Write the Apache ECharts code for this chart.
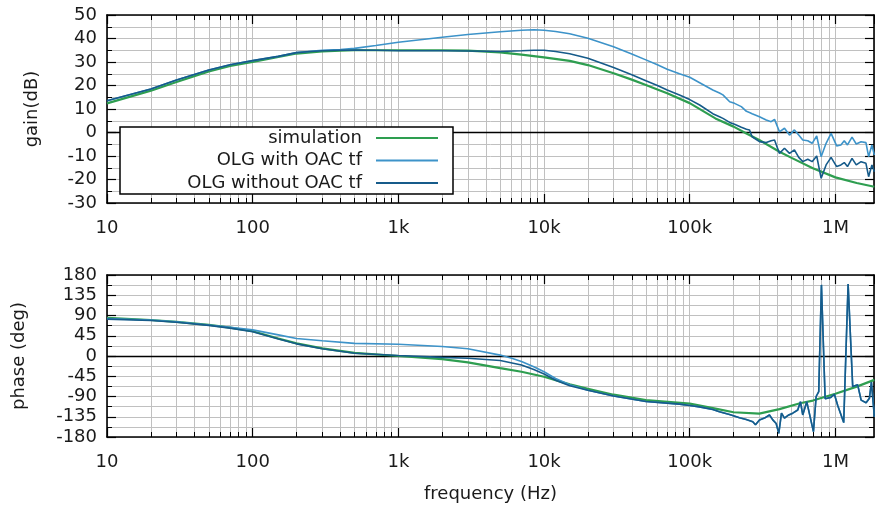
<!DOCTYPE html>
<html><head><meta charset="utf-8">
<script src="https://cdn.jsdelivr.net/npm/echarts@6/dist/echarts.min.js"></script>
<style>html,body{margin:0;padding:0;background:#fff}#c{width:875px;height:510px}</style>
</head><body><div id="c"></div>
<script>
// ---------------- data ----------------
const seriesNames = ['simulation', 'OLG with OAC tf', 'OLG without OAC tf'];
const xTickValues = [10, 100, 1e3, 1e4, 1e5, 1e6];
const xTickLabels = ['10', '100', '1k', '10k', '100k', '1M'];

// simulation (smooth)
const simGainFreq = [10,20,30,50,70,100,150,200,250,300,400,500,1000,2000,3000,5000,7000,10000,15000,20000,30000,40000,50000,60000,70000,100000,150000,200000,245000,300000,413000,500000,700000,1000000,1400000,1850000];
const simGain = [12.4,17.8,21.5,26.0,28.3,30.0,32.2,33.6,34.1,34.5,34.8,35.0,35.0,35.0,34.8,34.1,33.1,32.0,30.5,28.7,25.2,22.5,20.2,18.3,16.7,12.5,6.0,2.5,-0.4,-3.2,-8.2,-10.8,-15.2,-19.1,-21.5,-23.1];
const simPhaseFreq = [10,20,30,50,70,100,150,200,300,500,1000,2000,3000,5000,7000,10000,15000,20000,30000,50000,100000,150000,200000,300000,413000,572000,700000,1000000,1400000,1850000];
const simPhase = [85,80,76,69,63,55,39,28,17,7,0,-7,-14,-27,-35,-46,-63,-73,-86,-98,-106,-117,-125,-128,-118,-105,-99,-84,-68,-53];

// measured open-loop gain
const gainFreq = [10,20,30,50,70,100,150,200,250,300,400,500,700,1000,2000,3000,5000,7000,8500,10000,12000,15000,20000,30000,40000,50000,60000,70000,85000,100000,117000,144000,160000,169000,188000,203000,226000,245000,257000,268000,301000,335000,362000,382000,413000,447000,484000,523000,560000,597000,646000,692000,744000,798000,863000,934000,958000,1020000,1090000,1150000,1210000,1300000,1390000,1500000,1620000,1690000,1780000,1850000];
const gainWith = [13.5,18.5,22.3,26.6,28.8,30.6,32.4,34.0,34.6,35.0,35.3,35.8,37.0,38.4,40.5,41.7,42.9,43.5,43.7,43.5,43.0,42.0,40.1,36.5,33.4,30.9,28.8,26.9,25.0,23.5,21.2,18.1,16.8,16.0,13.1,12.4,11.0,9.0,8.5,8.0,6.7,5.3,4.6,5.6,0.3,1.8,-1.1,1.1,-1.1,-3.2,-3.5,-4.6,-1.5,-10.3,-4.6,-0.4,-0.1,-5.7,-5.3,-3.5,-5.3,-2.0,-4.9,-3.9,-4.3,-10.3,-5.3,-9.6];
const gainWithout = [13.5,18.5,22.3,26.6,28.8,30.6,32.4,34.0,34.5,34.8,35.0,35.1,35.0,34.8,34.8,34.7,34.5,34.8,35.0,35.0,34.5,33.5,31.6,27.7,24.6,22.0,20.0,18.1,16.0,14.0,11.7,8.0,6.7,6.0,4.3,3.5,2.2,1.4,1.1,-1.8,-3.9,-4.3,-3.5,-3.2,-8.9,-6.7,-8.9,-7.4,-10.6,-12.4,-11.4,-12.4,-10.0,-19.5,-13.8,-10.6,-10.0,-14.5,-13.8,-12.8,-14.5,-11.0,-13.8,-12.4,-13.1,-18.8,-13.8,-16.7];

// measured phase
const phaseWithoutFreq = [10,20,30,50,70,100,150,200,300,500,1000,2000,3000,5000,7000,8500,10000,12000,15000,20000,30000,50000,85000,100000,116700,144000,160000,187500,219600,244100,270900,282700,301000,325800,352600,371500,392000,408500,426300,446900,478200,509400,551300,575300,596600,635500,706500,737300,768300,801700,850000,930000,984000,1037000,1140000,1222000,1314000,1422000,1501000,1624000,1711000,1766000,1851000];
const phaseWithout = [82,79,75,68,62,54,38,27,16,6,1,-3,-5,-10,-20,-30,-40,-54,-66,-76,-89,-101,-107,-110,-113,-119,-124,-130,-137,-141,-146,-153,-142,-138,-131,-142,-150,-172,-127,-138,-131,-127,-120,-101.5,-131,-101.5,-168,-90,-79,158,-95,-92,-85,-110,-148,160,-68,-64,-98,-104,-94,-58,-135];
const phaseWithFreq = [10,20,30,50,70,100,150,200,300,500,1000,2000,3000,5000,6000,7000,8500,10000,12000,15000];
const phaseWith = [83,80,76,69,64,58,47,39,34,28,26,21,16,2,-5,-12,-24,-35,-50,-64];

// ---------------- layout / style ----------------
const FONT = 'DejaVu Sans';
const FS = 18;
const TXT = '#1a1a1a';
const GRIDC = '#c0c0c0';
const COLORS = ['#2e9e50', '#3d93c9', '#165b8a'];
const XMIN = 10, XMAX = 1.84e6;
const G0 = {left: 107, top: 15, width: 767, height: 188};
const G1 = {left: 107, top: 275, width: 767, height: 162};
const GAIN = {min: -30, max: 50, interval: 10};
const PHASE = {min: -180, max: 180, interval: 45};

function pairs(xs, ys) { return xs.map((x, i) => [x, ys[i]]); }
const cut = phaseWithoutFreq.indexOf(20000);
const phaseWithData = pairs(phaseWithFreq, phaseWith).concat(pairs(phaseWithoutFreq.slice(cut), phaseWithout.slice(cut)));

const minorFreqs = [];
for (let d = 10; d < XMAX; d *= 10) for (let k = 2; k <= 9; k++) if (k * d < XMAX) minorFreqs.push(k * d);

function xLabel(v) {
  const i = xTickValues.findIndex(t => Math.abs(Math.log10(v) - Math.log10(t)) < 1e-6);
  return i >= 0 ? xTickLabels[i] : '';
}

function xAxes(gi, withLabels) {
  const common = {
    type: 'log', logBase: 10, min: XMIN, max: XMAX, gridIndex: gi, splitNumber: 6,
    axisLine: {show: true, onZero: false, lineStyle: {color: '#000', width: 1.6}},
    axisTick: {show: true, inside: true, length: 9, lineStyle: {color: '#000', width: 1.2}},
    minorTick: {show: false}, minorSplitLine: {show: false}
  };
  return [
    Object.assign({}, common, {
      position: 'bottom',
      axisLabel: {show: true, formatter: xLabel, margin: 16, fontFamily: FONT, fontSize: FS, color: TXT, showMaxLabel: false},
      splitLine: {show: true, lineStyle: {color: GRIDC, width: 1}},
      name: withLabels ? 'frequency (Hz)' : '', nameLocation: 'middle', nameGap: 48,
      nameTextStyle: {fontFamily: FONT, fontSize: FS, color: TXT}
    }),
    Object.assign({}, common, {position: 'top', axisLabel: {show: false}, splitLine: {show: false}})
  ];
}

function yAxes(gi, r, name, nameGap) {
  const common = {
    type: 'value', gridIndex: gi, min: r.min, max: r.max, interval: r.interval,
    axisLine: {show: true, onZero: false, lineStyle: {color: '#000', width: 1.6}},
    axisTick: {show: true, inside: true, length: 9, lineStyle: {color: '#000', width: 1.2}},
    minorTick: {show: true, splitNumber: 2, length: 5, lineStyle: {color: '#000', width: 1}}
  };
  return [
    Object.assign({}, common, {
      position: 'left',
      axisLabel: {show: true, margin: 10, fontFamily: FONT, fontSize: FS, color: TXT},
      splitLine: {show: true, lineStyle: {color: GRIDC, width: 1}},
      minorSplitLine: {show: true, lineStyle: {color: GRIDC, width: 1}},
      name: name, nameLocation: 'middle', nameGap: nameGap,
      nameTextStyle: {fontFamily: FONT, fontSize: FS, color: TXT}
    }),
    Object.assign({}, common, {position: 'right', axisLabel: {show: false}, splitLine: {show: false}, minorSplitLine: {show: false}})
  ];
}

function helperSeries(xi, yi, r, g) {
  const minorLen = 5 * (r.max - r.min) / g.height;
  const tickSegs = [];
  minorFreqs.forEach(f => {
    tickSegs.push([{coord: [f, r.min]}, {coord: [f, r.min + minorLen]}]);
    tickSegs.push([{coord: [f, r.max]}, {coord: [f, r.max - minorLen]}]);
  });
  return [
    {type: 'line', xAxisIndex: xi, yAxisIndex: yi, data: [], silent: true, z: 1,
     markLine: {silent: true, z: 1, symbol: ['none', 'none'], label: {show: false}, animation: false,
       lineStyle: {color: GRIDC, width: 1, type: 'solid'},
       data: minorFreqs.map(f => ({xAxis: f}))}},
    {type: 'line', xAxisIndex: xi, yAxisIndex: yi, data: [], silent: true, z: 1,
     markLine: {silent: true, z: 1, symbol: ['none', 'none'], label: {show: false}, animation: false,
       lineStyle: {color: '#000', width: 1.3, type: 'solid'},
       data: [{yAxis: 0}]}},
    {type: 'line', xAxisIndex: xi, yAxisIndex: yi, data: [], silent: true, z: 6,
     markLine: {silent: true, z: 6, symbol: ['none', 'none'], label: {show: false}, animation: false,
       lineStyle: {color: '#000', width: 1, type: 'solid'},
       data: tickSegs}}
  ];
}

function dataSeries(xi, yi, datas) {
  return datas.map((d, i) => ({
    name: seriesNames[i], type: 'line', xAxisIndex: xi, yAxisIndex: yi,
    data: d, showSymbol: false, symbol: 'none', smooth: false, z: 3 + i * 0.1,
    lineStyle: {color: COLORS[i], width: i === 0 ? 2.2 : 1.6}, itemStyle: {color: COLORS[i]}
  }));
}

const option = {
  animation: false,
  backgroundColor: '#fff',
  grid: [
    Object.assign({containLabel: false}, G0),
    Object.assign({containLabel: false}, G1)
  ],
  xAxis: xAxes(0, false).concat(xAxes(1, true)),
  yAxis: yAxes(0, GAIN, 'gain(dB)', 66).concat(yAxes(1, PHASE, 'phase (deg)', 79)),
  legend: {
    data: seriesNames, orient: 'vertical', left: 120, top: 127, align: 'right',
    icon: 'rect', itemWidth: 62, itemHeight: 2,
    backgroundColor: '#fff', borderColor: '#000', borderWidth: 1.5,
    padding: [2, 15, 2, 10], itemGap: 4.5,
    textStyle: {fontFamily: FONT, fontSize: FS, color: TXT, width: 232, align: 'right', padding: [0, 9, 0, 0], lineHeight: 18},
    selectedMode: false, z: 10
  },
  series: [].concat(
    helperSeries(0, 0, GAIN, G0),
    helperSeries(2, 2, PHASE, G1),
    dataSeries(0, 0, [pairs(simGainFreq, simGain), pairs(gainFreq, gainWith), pairs(gainFreq, gainWithout)]),
    dataSeries(2, 2, [pairs(simPhaseFreq, simPhase), phaseWithData, pairs(phaseWithoutFreq, phaseWithout)])
  )
};

const chart = echarts.init(document.getElementById('c'), null, {renderer: 'canvas'});
chart.setOption(option);
</script>
</body></html>
